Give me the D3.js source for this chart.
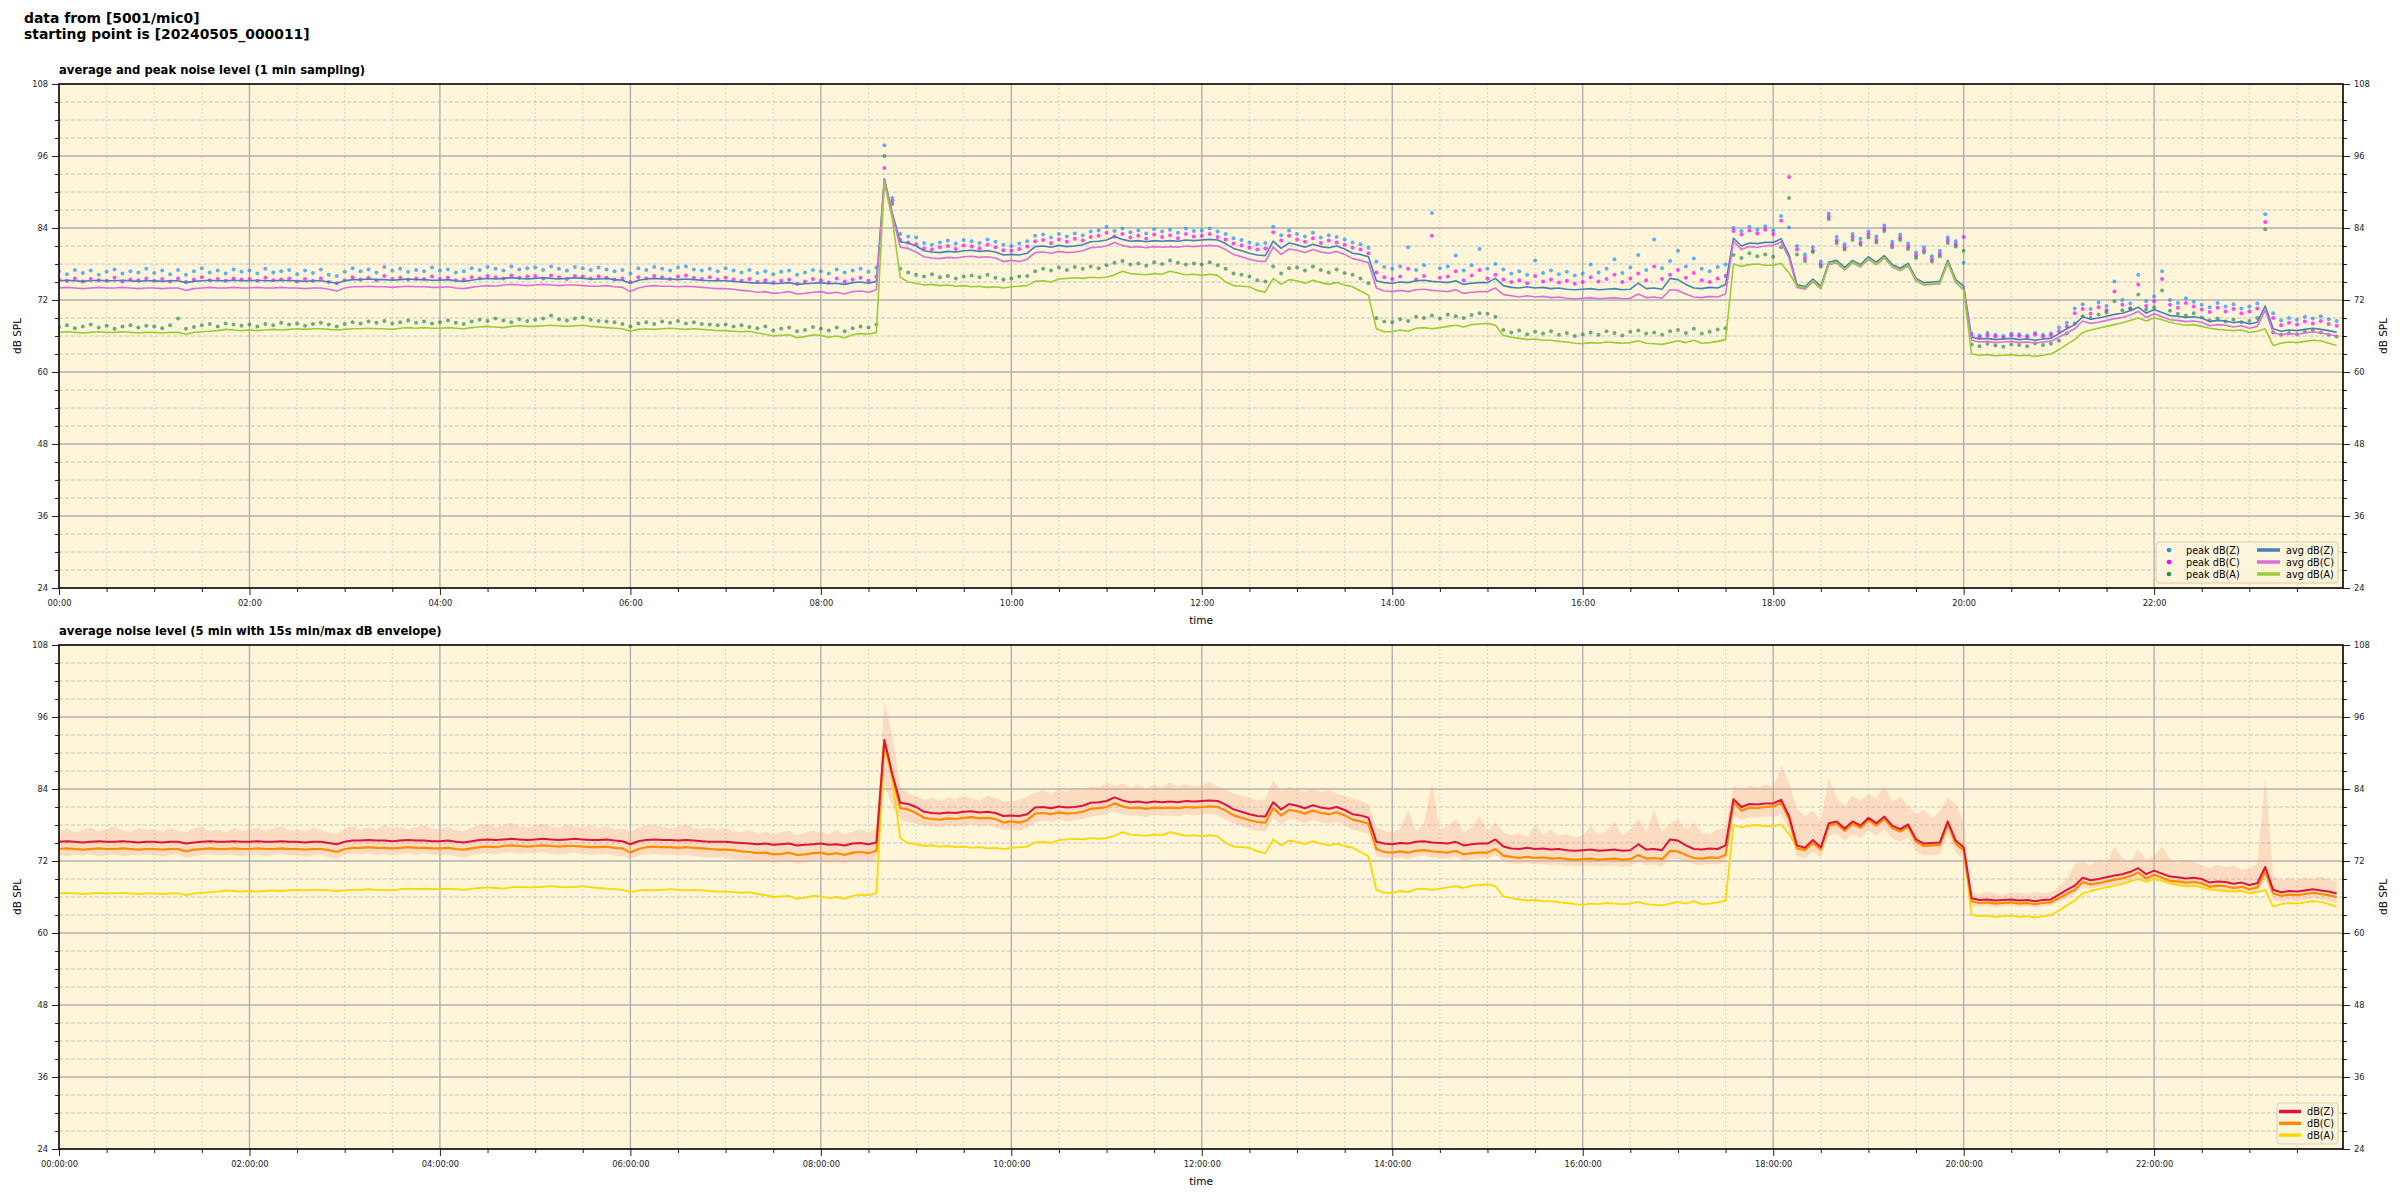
<!DOCTYPE html>
<html><head><meta charset="utf-8">
<script src="https://cdn.jsdelivr.net/npm/d3@7"></script>
<style>body{margin:0;background:#fff} text{font-family:"DejaVu Sans",sans-serif}</style>
</head><body><svg id="c" width="2400" height="1200"></svg>
<script>
// ---------------- data (5-minute steps starting at 00:00) ----------------
const stepMin = 5;
const titleLines = ["data from [5001/mic0]", "starting point is [20240505_000011]"];
const topTitle = "average and peak noise level (1 min sampling)";
const bottomTitle = "average noise level (5 min with 15s min/max dB envelope)";
const yTickValues = [24, 36, 48, 60, 72, 84, 96, 108];
const xTickHours = [0, 2, 4, 6, 8, 10, 12, 14, 16, 18, 20, 22];
const xTickLabelsTop = ["00:00","02:00","04:00","06:00","08:00","10:00","12:00","14:00","16:00","18:00","20:00","22:00"];
const xTickLabelsBottom = ["00:00:00","02:00:00","04:00:00","06:00:00","08:00:00","10:00:00","12:00:00","14:00:00","16:00:00","18:00:00","20:00:00","22:00:00"];

const avgZ = [
75.2,75.3,75.2,75.1,75.2,75.3,75.2,75.2,75.3,75.2,75.1,75.2,
75.2,75.1,75.2,75.2,74.9,75.1,75.2,75.3,75.2,75.2,75.3,75.2,
75.2,75.3,75.2,75.2,75.3,75.2,75.2,75.1,75.2,75.2,75.0,74.8,
75.2,75.4,75.4,75.5,75.4,75.4,75.3,75.4,75.5,75.4,75.4,75.3,
75.3,75.4,75.2,75.1,75.3,75.5,75.6,75.5,75.6,75.7,75.6,75.5,
75.6,75.7,75.6,75.5,75.6,75.7,75.6,75.5,75.5,75.6,75.4,75.3,
74.8,75.3,75.5,75.6,75.5,75.5,75.4,75.5,75.4,75.3,75.2,75.2,
75.2,75.1,75.0,74.9,74.8,74.9,74.7,74.8,74.9,74.6,74.7,74.8,
74.9,74.7,74.8,74.6,74.9,75.0,74.8,75.1,92.2,86.5,81.7,81.5,
81.0,80.2,80.0,79.9,80.1,80.0,80.2,80.3,80.1,80.2,80.0,79.5,
79.6,79.5,79.8,80.9,81.0,80.8,81.1,80.9,81.0,81.2,81.7,81.8,
82.0,82.6,82.1,81.8,81.9,81.7,81.9,81.8,81.9,81.8,82.0,81.9,
82.0,82.1,82.0,81.4,80.6,80.2,79.8,79.5,79.4,81.8,80.6,81.5,
81.2,80.8,81.3,80.9,80.7,81.0,80.5,79.8,79.6,79.2,75.2,74.9,
74.8,75.0,74.9,75.2,75.3,75.1,75.0,74.9,75.2,74.6,74.8,74.9,
74.9,75.6,74.4,74.1,74.0,74.2,74.0,74.1,73.9,74.0,73.8,73.7,
73.8,73.9,73.7,73.8,73.9,73.7,73.8,74.8,73.9,74.0,73.8,75.6,
75.4,74.6,74.0,73.9,74.1,74.0,74.6,82.3,81.0,81.5,81.4,81.6,
81.6,82.2,79.5,74.6,74.2,75.5,74.3,78.3,78.6,77.4,78.6,77.9,
79.2,78.3,79.4,77.9,77.3,78.1,75.6,74.9,75.0,75.1,78.6,75.4,
74.3,65.8,65.5,65.6,65.4,65.5,65.6,65.4,65.5,65.3,65.5,65.6,
66.4,67.2,67.9,69.2,68.8,69.0,69.3,69.6,69.8,70.2,70.8,69.8,
70.4,69.9,69.4,69.3,69.1,69.2,69.0,68.4,68.6,68.5,68.2,68.4,
68.0,68.3,71.0,67.2,66.8,67.0,66.9,67.1,67.3,67.1,66.9,66.6];

const avgC = [
74.0,74.1,74.0,73.9,74.0,74.1,74.0,74.0,74.1,74.0,73.9,74.0,
74.0,73.9,74.0,74.0,73.6,73.9,74.0,74.1,74.0,74.0,74.1,74.0,
74.0,74.1,74.0,74.0,74.1,74.0,74.0,73.9,74.0,74.0,73.8,73.5,
74.0,74.2,74.2,74.3,74.2,74.2,74.1,74.2,74.3,74.2,74.2,74.1,
74.1,74.2,74.0,73.9,74.1,74.3,74.4,74.3,74.5,74.6,74.5,74.4,
74.5,74.6,74.5,74.4,74.5,74.5,74.4,74.3,74.3,74.4,74.2,74.1,
73.4,74.0,74.3,74.4,74.3,74.3,74.2,74.3,74.2,74.1,74.0,73.9,
73.9,73.8,73.6,73.5,73.3,73.4,73.1,73.2,73.4,73.0,73.1,73.3,
73.4,73.1,73.3,73.0,73.4,73.5,73.3,73.7,92.0,86.2,80.8,80.6,
80.0,79.2,79.0,78.9,79.1,79.0,79.2,79.3,79.1,79.2,79.0,78.4,
78.6,78.4,78.8,79.9,80.0,79.8,80.1,79.9,80.0,80.2,80.7,80.8,
81.0,81.6,81.1,80.8,80.9,80.7,80.9,80.8,80.9,80.8,81.0,80.9,
81.0,81.1,81.0,80.4,79.6,79.2,78.8,78.5,78.4,80.8,79.6,80.5,
80.3,79.9,80.4,80.0,79.8,80.1,79.6,78.9,78.6,78.2,74.0,73.5,
73.4,73.6,73.4,73.7,73.8,73.6,73.5,73.4,73.7,73.1,73.3,73.4,
73.4,74.0,72.9,72.7,72.5,72.7,72.5,72.6,72.4,72.5,72.3,72.2,
72.3,72.4,72.2,72.3,72.4,72.2,72.3,73.0,72.4,72.5,72.3,73.7,
73.6,73.0,72.5,72.4,72.6,72.5,73.0,81.8,80.4,80.9,80.8,81.0,
81.1,81.7,79.0,74.1,73.8,75.0,73.9,77.9,78.2,77.0,78.2,77.5,
78.8,77.9,79.0,77.5,76.9,77.7,75.2,74.5,74.6,74.7,78.2,74.9,
73.8,65.3,65.0,65.1,64.9,65.0,65.1,64.9,65.0,64.8,65.0,65.1,
65.8,66.5,67.2,68.5,68.1,68.3,68.6,68.9,69.1,69.5,70.1,69.1,
69.7,69.2,68.7,68.6,68.4,68.5,68.3,67.7,67.9,67.8,67.5,67.7,
67.3,67.6,70.3,66.6,66.2,66.4,66.3,66.5,66.7,66.5,66.3,66.0];

const avgA = [
66.6,66.7,66.6,66.5,66.6,66.7,66.6,66.6,66.7,66.6,66.5,66.6,
66.6,66.5,66.6,66.6,66.3,66.6,66.7,66.8,66.9,67.1,67.0,66.9,
67.0,66.9,67.0,67.1,67.0,67.1,67.2,67.1,67.2,67.2,67.1,67.0,
67.1,67.2,67.2,67.3,67.2,67.2,67.1,67.3,67.4,67.3,67.4,67.3,
67.3,67.4,67.3,67.2,67.4,67.5,67.6,67.5,67.4,67.6,67.7,67.6,
67.6,67.7,67.8,67.7,67.6,67.7,67.8,67.6,67.5,67.4,67.3,67.2,
66.8,67.1,67.2,67.1,67.2,67.3,67.2,67.1,67.2,67.1,67.0,66.9,
66.9,66.8,66.7,66.8,66.5,66.3,66.0,66.1,66.2,65.7,65.9,66.2,
66.1,65.8,66.0,65.7,66.2,66.4,66.3,66.6,91.5,85.5,75.8,75.0,
74.8,74.5,74.6,74.4,74.5,74.3,74.4,74.2,74.3,74.1,74.2,74.0,
74.2,74.3,74.4,75.1,75.2,75.0,75.5,75.6,75.7,75.6,75.8,75.7,
75.8,76.2,76.8,76.4,76.3,76.2,76.4,76.3,76.8,76.5,76.2,76.3,
76.1,76.3,76.1,75.0,74.4,74.3,74.2,73.6,73.3,75.6,74.6,75.4,
75.2,74.8,75.3,74.9,74.6,74.9,74.5,74.2,73.5,72.8,67.2,66.7,
66.7,67.0,66.8,67.3,67.4,67.2,67.4,67.6,67.8,67.5,67.9,68.0,
68.1,67.8,66.1,65.8,65.6,65.4,65.5,65.3,65.3,65.1,65.0,64.8,
64.7,64.9,64.8,65.0,64.9,64.8,64.9,65.2,64.8,64.7,64.6,64.9,
65.2,64.9,65.3,64.8,64.9,65.1,65.4,78.0,77.6,77.9,78.0,77.8,
77.8,78.1,76.5,74.3,74.0,75.2,74.0,78.0,78.3,77.1,78.3,77.6,
78.9,78.0,79.1,77.6,77.0,77.8,75.3,74.6,74.7,74.8,78.3,75.0,
73.6,63.0,62.8,62.9,62.7,62.8,62.9,62.7,62.8,62.6,62.8,63.0,
63.7,64.6,65.4,66.6,67.0,67.3,67.6,67.9,68.2,68.6,69.0,68.5,
69.0,68.7,68.3,68.0,67.8,67.9,67.6,67.3,67.1,67.0,66.9,67.0,
66.6,66.8,67.2,64.4,64.8,65.0,64.9,65.1,65.3,65.2,64.8,64.4];

const peakZ = [
76.8,76.3,77.0,76.5,76.9,76.2,76.7,77.1,76.4,76.8,76.6,77.2,
76.5,76.9,76.3,77.0,76.2,76.8,77.3,76.6,76.9,76.4,77.1,76.7,
76.9,76.4,77.2,76.6,76.8,77.0,76.3,76.9,76.5,77.1,76.2,76.0,
76.7,77.3,76.8,77.1,76.6,77.5,76.9,77.2,76.7,77.0,76.8,77.4,
76.9,77.1,76.6,76.8,77.3,77.0,77.5,77.2,76.9,77.6,77.1,77.3,
77.4,77.0,77.6,77.2,76.9,77.5,77.3,77.0,77.4,77.1,76.8,77.0,
76.4,77.3,77.0,77.5,77.2,76.9,77.4,77.6,77.1,76.9,77.2,76.8,
77.3,76.9,76.6,77.0,76.5,76.8,76.3,76.7,76.9,76.2,76.6,77.0,
76.8,76.4,77.1,76.6,76.9,77.2,76.7,77.4,97.8,89.0,83.0,82.6,
82.4,81.5,81.2,81.6,81.9,81.4,82.0,81.8,81.5,82.1,81.7,81.2,
81.0,81.4,81.8,82.7,82.9,82.4,83.0,82.6,83.1,82.8,83.4,83.6,
84.2,83.5,83.9,83.3,83.6,83.1,83.8,83.4,83.7,83.2,83.9,83.5,
83.6,83.9,83.4,83.0,82.3,82.0,81.6,81.3,81.5,84.2,82.8,83.6,
83.0,82.6,83.2,82.4,82.8,82.5,82.1,81.6,81.3,80.7,78.4,77.5,
77.2,77.6,80.8,77.0,77.8,86.5,77.3,77.6,79.4,76.9,77.8,80.5,
77.2,78.0,77.1,76.4,76.8,76.2,78.6,76.5,76.9,76.3,76.7,76.1,
76.4,77.9,76.6,77.2,78.8,76.5,77.4,79.5,77.0,82.1,77.3,78.5,
80.2,77.6,78.9,77.2,76.8,77.5,77.9,84.0,83.5,84.2,83.7,84.3,
83.6,86.0,84.1,81.0,79.6,80.8,78.4,86.4,82.5,81.3,83.0,82.2,
83.4,82.6,84.4,81.7,82.9,81.4,79.9,80.8,79.3,80.2,82.4,81.8,
78.2,66.4,66.1,66.5,66.2,66.0,66.4,66.3,66.1,66.5,66.2,66.4,
67.4,68.2,70.6,71.3,70.5,71.6,71.0,75.1,72.0,71.4,76.2,71.8,
72.6,76.8,72.0,71.5,72.3,71.7,71.2,70.8,71.5,70.9,71.3,70.6,
70.9,71.4,86.3,69.8,68.6,69.0,68.7,69.2,68.9,69.3,68.8,68.5];

const peakC = [
75.4,75.2,75.6,75.1,75.5,75.3,75.2,75.7,75.1,75.4,75.3,75.6,
75.2,75.5,75.1,75.6,75.0,75.4,75.8,75.3,75.5,75.2,75.6,75.4,
75.5,75.2,75.7,75.3,75.4,75.6,75.1,75.5,75.2,75.6,75.0,74.8,
75.3,75.8,75.4,75.7,75.3,76.0,75.5,75.7,75.4,75.6,75.5,75.9,
75.5,75.7,75.3,75.4,75.8,75.6,76.0,75.8,75.6,76.1,75.7,75.9,
76.0,75.6,76.1,75.8,75.5,76.0,75.9,75.6,75.9,75.7,75.4,75.6,
75.0,75.8,75.6,76.0,75.8,75.5,75.9,76.1,75.7,75.5,75.8,75.4,
75.7,75.4,75.2,75.5,75.0,75.3,74.9,75.2,75.4,74.7,75.1,75.5,
75.3,74.9,75.6,75.1,75.4,75.7,75.2,75.9,94.0,88.5,82.0,81.6,
81.3,80.6,80.4,80.8,81.0,80.5,81.1,80.9,80.6,81.2,80.8,80.3,
80.2,80.5,80.9,81.8,82.0,81.5,82.1,81.7,82.2,81.9,82.5,82.7,
83.2,82.6,83.0,82.4,82.7,82.2,82.9,82.5,82.8,82.3,83.0,82.6,
82.7,83.0,82.5,82.1,81.4,81.1,80.7,80.4,80.6,83.3,81.9,82.7,
82.1,81.7,82.3,81.5,81.9,81.6,81.2,80.7,80.4,79.8,76.6,75.8,
75.5,75.9,77.2,75.4,76.0,82.7,75.7,75.9,76.8,75.3,76.1,77.0,
75.6,76.2,75.4,75.0,75.3,74.8,76.0,75.1,75.4,74.9,75.2,74.7,
75.0,75.8,75.1,75.5,76.2,75.0,75.6,76.4,75.3,77.6,75.5,76.2,
77.0,75.7,76.5,75.3,75.0,75.6,76.0,83.5,82.9,83.6,83.1,83.7,
83.0,85.2,92.5,80.4,79.0,80.2,77.9,85.9,81.9,80.8,82.5,81.6,
82.9,82.0,83.9,81.2,82.4,80.9,79.4,80.3,78.8,79.7,81.9,81.3,
82.5,66.0,65.8,66.1,65.9,65.7,66.1,66.0,65.8,66.2,65.9,66.1,
66.8,67.6,69.8,70.5,69.7,70.8,70.3,73.4,71.2,70.6,74.6,71.0,
71.8,75.5,71.2,70.7,71.5,70.9,70.4,70.0,70.7,70.1,70.5,69.8,
70.1,70.6,85.0,69.0,67.8,68.2,67.9,68.4,68.1,68.5,68.0,67.7];

const peakA = [
67.5,67.8,67.3,67.6,67.9,67.4,67.7,67.2,67.6,67.8,67.4,67.7,
67.6,67.3,67.8,68.9,67.2,67.5,67.8,68.0,67.6,68.1,67.9,67.7,
67.9,67.6,68.0,67.8,68.2,67.9,68.1,67.7,68.0,68.2,67.9,67.6,
68.0,68.3,68.1,68.4,68.2,68.5,68.1,68.3,68.6,68.2,68.4,68.1,
68.3,68.6,68.2,68.0,68.4,68.7,68.5,68.9,68.6,68.3,68.8,68.5,
68.7,68.9,69.4,68.8,68.6,68.9,69.1,68.7,68.5,68.4,68.3,68.0,
67.6,68.1,68.3,68.0,68.4,68.2,68.5,68.1,68.3,68.0,67.9,67.8,
67.9,67.6,67.8,67.5,67.3,67.6,66.9,67.2,67.4,66.8,67.0,67.5,
67.2,66.9,67.4,66.8,67.3,67.6,67.4,67.9,96.0,88.0,77.2,76.6,
76.2,75.9,76.3,75.8,76.0,75.6,75.9,76.1,75.8,76.2,75.7,75.4,
75.6,75.9,76.0,76.8,77.2,76.9,77.4,77.0,77.5,77.2,77.6,77.3,
77.8,78.2,78.5,77.9,78.1,77.7,78.3,78.0,78.6,78.2,77.9,78.1,
77.9,78.3,77.8,77.2,76.4,76.2,75.9,75.3,75.1,77.6,76.4,77.3,
77.4,76.9,77.6,77.0,76.6,77.1,76.5,76.2,75.6,74.8,69.0,68.4,
68.3,68.8,68.5,69.2,69.0,69.4,68.9,69.6,69.3,69.0,69.5,69.8,
69.7,69.2,67.0,66.6,66.9,66.3,66.7,66.4,66.8,66.2,66.5,66.0,
66.3,66.6,66.2,66.8,66.5,66.1,66.7,66.9,66.4,66.6,66.2,66.8,
67.0,66.5,67.2,66.4,66.7,67.1,67.3,79.5,79.0,79.8,79.3,79.6,
79.2,80.8,89.0,79.6,78.5,80.0,77.6,85.5,81.5,80.4,82.0,81.2,
82.4,81.6,83.5,80.8,82.0,80.5,79.0,79.9,78.4,79.3,81.5,80.9,
80.2,64.6,64.3,64.7,64.4,64.2,64.6,64.5,64.3,64.8,64.5,64.7,
65.2,66.4,68.1,69.3,69.0,69.6,69.9,71.8,70.3,70.6,72.9,70.4,
70.8,73.6,70.2,69.7,69.4,69.8,69.1,68.6,68.9,68.4,68.7,68.3,
68.5,69.0,83.8,66.6,66.2,66.5,66.3,66.7,66.9,66.6,66.2,65.9];

const envLow = [
73.0,72.8,73.1,72.9,73.2,72.7,73.0,73.1,72.8,73.0,72.9,73.1,
72.9,72.7,73.0,73.1,72.5,72.8,73.0,73.2,72.9,73.1,73.0,72.8,
73.0,73.1,72.8,73.0,73.2,72.9,73.0,72.7,72.9,73.1,72.6,72.3,
73.0,73.2,73.1,73.3,73.0,73.2,72.9,73.1,73.3,73.0,73.2,73.1,
72.9,73.1,72.8,72.6,73.0,73.2,73.3,73.1,73.4,73.5,73.2,73.3,
73.3,73.5,73.2,73.1,73.3,73.4,73.2,73.0,73.1,73.2,72.9,72.8,
72.3,72.9,73.1,73.2,73.0,73.1,72.9,73.0,72.8,72.7,72.5,72.6,
72.6,72.3,72.1,72.0,71.8,72.0,71.6,71.8,72.0,71.5,71.7,71.9,
72.0,71.6,71.8,71.5,72.0,72.2,71.9,72.3,85.0,81.0,78.8,78.5,
78.2,77.9,77.8,77.6,77.9,77.7,78.0,78.1,77.8,78.0,77.6,77.2,
77.3,77.1,77.5,78.5,78.8,78.5,78.9,78.6,78.8,79.0,79.4,79.6,
79.8,80.2,79.8,79.5,79.6,79.3,79.7,79.5,79.6,79.4,79.8,79.6,
79.7,79.8,79.6,78.9,78.2,77.8,77.4,77.0,76.9,79.2,78.1,79.0,
78.8,78.3,78.9,78.4,78.2,78.5,78.0,77.2,76.9,76.5,72.8,72.5,
72.4,72.6,72.3,72.7,72.9,72.6,72.5,72.4,72.7,72.1,72.3,72.5,
72.4,73.0,71.9,71.6,71.5,71.7,71.4,71.5,71.3,71.4,71.2,71.1,
71.2,71.3,71.1,71.2,71.3,71.0,71.2,71.9,71.3,71.4,71.1,72.4,
72.3,71.9,71.4,71.3,71.5,71.4,71.8,79.8,78.8,79.3,79.2,79.4,
79.4,79.8,77.2,72.8,72.5,73.6,72.6,76.2,76.6,75.4,76.5,75.8,
77.1,76.2,77.3,75.8,75.2,76.0,73.6,72.9,73.0,73.1,76.4,73.4,
72.3,64.5,64.4,64.6,64.3,64.5,64.6,64.3,64.5,64.2,64.4,64.6,
65.2,65.8,66.5,67.6,67.4,67.7,67.9,68.1,68.3,68.7,69.0,68.4,
68.9,68.5,68.0,67.8,67.6,67.7,67.4,66.9,67.1,67.0,66.8,67.0,
66.6,66.9,69.0,65.5,65.2,65.5,65.3,65.6,65.8,65.6,65.3,65.0];

const envHigh = [
77.0,77.4,76.8,77.2,77.6,76.9,77.3,77.8,77.1,76.9,77.5,77.2,
77.3,76.9,77.5,77.1,76.8,77.4,77.7,77.0,77.3,76.8,77.5,77.1,
77.2,77.6,77.0,77.4,77.8,77.1,77.3,76.9,77.5,77.2,76.7,76.5,
77.4,77.8,77.2,77.6,77.3,78.0,77.5,77.7,77.3,77.6,77.9,77.4,
77.3,77.7,77.1,77.0,77.6,77.9,78.2,77.6,77.9,78.4,77.8,77.6,
77.9,78.2,77.7,77.5,78.1,77.8,77.6,77.9,77.5,77.8,77.3,77.4,
76.9,77.6,77.9,78.0,77.7,77.4,77.8,78.1,77.5,77.3,77.6,77.2,
77.4,77.0,76.8,77.2,76.6,76.9,76.4,76.8,77.0,76.3,76.7,77.1,
76.8,76.5,77.2,76.4,76.9,77.3,76.7,77.5,98.5,93.0,84.5,83.2,
82.8,82.2,82.5,82.0,82.6,82.3,82.8,82.4,82.1,82.9,82.5,82.0,
81.9,82.3,82.7,83.4,83.8,83.2,83.9,83.5,84.2,83.7,84.5,84.3,
85.0,84.6,84.9,84.2,84.7,84.1,84.8,84.3,85.1,84.4,84.8,84.5,
84.6,85.2,84.4,84.0,83.2,82.9,82.5,82.1,82.3,85.5,83.6,84.4,
84.0,83.5,84.2,83.4,83.8,83.2,82.9,82.4,82.0,81.5,77.6,77.0,
76.8,77.4,80.5,77.0,78.2,85.0,77.3,77.8,79.0,76.8,77.6,79.5,
77.0,78.5,76.8,76.3,76.6,76.0,78.0,76.4,77.2,76.2,76.5,75.9,
76.3,77.8,76.4,77.0,78.6,76.2,77.2,79.0,76.8,80.5,76.9,78.2,
79.0,77.2,78.4,76.8,76.5,77.2,77.6,84.5,83.8,84.6,84.2,84.8,
84.2,87.8,85.0,80.6,79.5,80.4,78.6,85.8,82.4,81.2,83.0,82.0,
83.2,82.5,84.6,81.8,82.8,81.2,79.8,80.6,79.1,80.2,82.6,81.5,
78.5,66.8,66.5,66.9,66.6,66.4,66.8,66.7,66.5,66.9,66.6,66.8,
67.8,68.9,71.4,72.0,71.2,72.3,71.6,74.4,72.5,71.9,74.0,72.2,
72.8,74.5,72.3,71.7,72.2,71.9,71.3,70.8,71.4,70.9,71.2,70.6,
70.8,71.5,85.8,69.6,68.7,69.1,68.8,69.3,69.0,69.4,68.9,68.5];

// ---------------- layout ----------------
const BG = "#fff6da";
const L = 59, R = 2343;
const svg = d3.select("#c");
const x = d3.scaleLinear().domain([0, 1439]).range([L, R]);
const tmin = i => i * stepMin;

svg.append("text").attr("x", 24).attr("y", 23).attr("font-size", 13.9).attr("font-weight", "bold").text(titleLines[0]);
svg.append("text").attr("x", 24).attr("y", 38.5).attr("font-size", 13.9).attr("font-weight", "bold").text(titleLines[1]);

function panel(top, bottom, title, xLabels, xLabelY) {
  const y = d3.scaleLinear().domain([24, 108]).range([bottom, top]);
  const g = svg.append("g");
  g.append("rect").attr("x", L).attr("y", top).attr("width", R - L).attr("height", bottom - top).attr("fill", BG);
  const majorX = xTickHours.map(h => h * 60);
  const minorX = d3.range(30, 1439, 30).filter(m => m % 120 !== 0);
  const minorY = d3.range(27, 108, 3).filter(v => v % 12 !== 0);
  g.selectAll(null).data(minorX).join("line")
    .attr("x1", d => x(d)).attr("x2", d => x(d)).attr("y1", top).attr("y2", bottom)
    .attr("stroke", "#d6d0c0").attr("stroke-width", 0.9).attr("stroke-dasharray", "2,2");
  g.selectAll(null).data(minorY).join("line")
    .attr("x1", L).attr("x2", R).attr("y1", d => y(d)).attr("y2", d => y(d))
    .attr("stroke", "#bdbdbd").attr("stroke-width", 0.9).attr("stroke-dasharray", "4,2");
  g.selectAll(null).data(majorX.filter(d => d > 0)).join("line")
    .attr("x1", d => x(d)).attr("x2", d => x(d)).attr("y1", top).attr("y2", bottom)
    .attr("stroke", "#b0b0b0").attr("stroke-width", 1.4);
  g.selectAll(null).data(yTickValues.filter(d => d > 24 && d < 108)).join("line")
    .attr("x1", L).attr("x2", R).attr("y1", d => y(d)).attr("y2", d => y(d))
    .attr("stroke", "#b0b0b0").attr("stroke-width", 1.4);

  svg.append("text").attr("x", L).attr("y", top - 10).attr("font-size", 11.6).attr("font-weight", "bold").text(title);

  const styleAx = sel => { sel.select(".domain").remove(); sel.selectAll("text").attr("font-size", 8.3).attr("fill", "#222").attr("font-family", "DejaVu Sans"); sel.selectAll("line").attr("stroke", "#222"); };
  svg.append("g").attr("transform", `translate(${L},0)`).call(d3.axisLeft(y).tickValues(yTickValues).tickSize(7).tickPadding(4).tickFormat(d3.format("d"))).call(styleAx);
  svg.append("g").attr("transform", `translate(${L},0)`).call(d3.axisLeft(y).tickValues(minorY).tickSize(4).tickFormat("")).call(styleAx);
  svg.append("g").attr("transform", `translate(${R},0)`).call(d3.axisRight(y).tickValues(yTickValues).tickSize(7).tickPadding(4).tickFormat(d3.format("d"))).call(styleAx);
  svg.append("g").attr("transform", `translate(${R},0)`).call(d3.axisRight(y).tickValues(minorY).tickSize(4).tickFormat("")).call(styleAx);
  svg.append("g").attr("transform", `translate(0,${bottom})`).call(d3.axisBottom(x).tickValues(majorX).tickSize(7).tickPadding(5).tickFormat((d, i) => xLabels[i])).call(styleAx);
  svg.append("g").attr("transform", `translate(0,${bottom})`).call(d3.axisBottom(x).tickValues(minorX).tickSize(4).tickFormat("")).call(styleAx);

  svg.append("text").attr("x", (L + R) / 2).attr("y", xLabelY).attr("text-anchor", "middle").attr("font-size", 10.5).text("time");
  const my = (top + bottom) / 2;
  svg.append("text").attr("transform", `translate(21,${my}) rotate(-90)`).attr("text-anchor", "middle").attr("font-size", 10.5).text("dB SPL");
  svg.append("text").attr("transform", `translate(2387,${my}) rotate(-90)`).attr("text-anchor", "middle").attr("font-size", 10.5).text("dB SPL");

  const clipId = "clip" + top;
  svg.append("clipPath").attr("id", clipId).append("rect").attr("x", L).attr("y", top).attr("width", R - L).attr("height", bottom - top);
  const dataG = svg.append("g").attr("clip-path", `url(#${clipId})`);
  return { y, dataG };
}

function spines(top, bottom) {
  svg.append("rect").attr("x", L).attr("y", top).attr("width", R - L).attr("height", bottom - top)
    .attr("fill", "none").attr("stroke", "#000").attr("stroke-width", 1.6);
}

// ---------- top panel ----------
const P1 = panel(84, 588, topTitle, xTickLabelsTop, 624);
const dotSeries = [[peakZ, "#1e90ff"], [peakC, "#ff00ff"], [peakA, "#2e8b57"]];
dotSeries.forEach(([arr, col]) => {
  P1.dataG.selectAll(null).data(arr).join("circle")
    .attr("cx", (d, i) => x(tmin(i))).attr("cy", d => P1.y(d)).attr("r", 2)
    .attr("fill", col).attr("opacity", 0.7);
});
const lineTop = d3.line().x((d, i) => x(tmin(i))).y(d => P1.y(d));
[[avgZ, "#4682b4"], [avgC, "#da70d6"], [avgA, "#9acd32"]].forEach(([arr, col]) => {
  P1.dataG.append("path").datum(arr).attr("d", lineTop).attr("fill", "none").attr("stroke", col).attr("stroke-width", 1.6).attr("stroke-linejoin", "round");
});
spines(84, 588);

const lg1 = svg.append("g");
lg1.append("rect").attr("x", 2156).attr("y", 542).attr("width", 182).attr("height", 41).attr("rx", 3)
  .attr("fill", "#fdf4dc").attr("fill-opacity", 0.9).attr("stroke", "#e2cba0").attr("stroke-width", 1);
const leg1a = [["peak dB(Z)", "#1e90ff"], ["peak dB(C)", "#ff00ff"], ["peak dB(A)", "#2e8b57"]];
const leg1b = [["avg dB(Z)", "#4682b4"], ["avg dB(C)", "#da70d6"], ["avg dB(A)", "#9acd32"]];
leg1a.forEach(([t, c], i) => {
  const yy = 550 + i * 12;
  lg1.append("circle").attr("cx", 2169).attr("cy", yy).attr("r", 2.3).attr("fill", c);
  lg1.append("text").attr("x", 2186).attr("y", yy + 3.5).attr("font-size", 9.7).text(t);
});
leg1b.forEach(([t, c], i) => {
  const yy = 550 + i * 12;
  lg1.append("line").attr("x1", 2257).attr("x2", 2280).attr("y1", yy).attr("y2", yy).attr("stroke", c).attr("stroke-width", 3.5);
  lg1.append("text").attr("x", 2286).attr("y", yy + 3.5).attr("font-size", 9.7).text(t);
});

// ---------- bottom panel ----------
const P2 = panel(645, 1149, bottomTitle, xTickLabelsBottom, 1185);
const area = d3.area().x((d, i) => x(tmin(i))).y0((d, i) => P2.y(envLow[i])).y1((d, i) => P2.y(envHigh[i]));
P2.dataG.append("path").datum(envLow).attr("d", area).attr("fill", "#f4a58a").attr("opacity", 0.32);
const lineBot = d3.line().x((d, i) => x(tmin(i))).y(d => P2.y(d));
[[avgA, "#ffd700", 1.8], [avgC, "#ff8c00", 2.2], [avgZ, "#dc143c", 2.0]].forEach(([arr, col, w]) => {
  P2.dataG.append("path").datum(arr).attr("d", lineBot).attr("fill", "none").attr("stroke", col).attr("stroke-width", w).attr("stroke-linejoin", "round");
});
spines(645, 1149);

const lg2 = svg.append("g");
lg2.append("rect").attr("x", 2277).attr("y", 1103).attr("width", 61).attr("height", 41).attr("rx", 3)
  .attr("fill", "#fdf4dc").attr("fill-opacity", 0.9).attr("stroke", "#e2cba0").attr("stroke-width", 1);
[["dB(Z)", "#dc143c"], ["dB(C)", "#ff8c00"], ["dB(A)", "#ffd700"]].forEach(([t, c], i) => {
  const yy = 1111.5 + i * 11.8;
  lg2.append("line").attr("x1", 2279).attr("x2", 2301).attr("y1", yy).attr("y2", yy).attr("stroke", c).attr("stroke-width", 3.5);
  lg2.append("text").attr("x", 2307).attr("y", yy + 3.5).attr("font-size", 9.7).text(t);
});
</script></body></html>
